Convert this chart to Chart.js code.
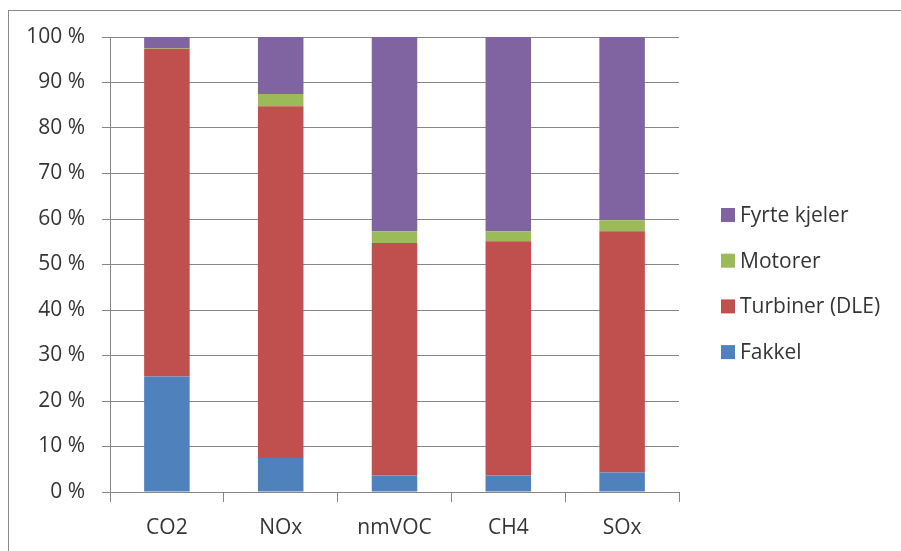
<!DOCTYPE html>
<html lang="no">
<head>
    <meta charset="UTF-8">
    <title>Utslipp fordelt på kilde</title>
    <style>
        html, body { margin: 0; padding: 0; background: #fff; overflow: hidden; }
        #wrap { position: relative; width: 901px; height: 551px; }
        #frame { position: absolute; left: 8px; top: 10px; width: 1000px; height: 600px;
                 border-left: 1px solid #8a8a8a; border-top: 1px solid #8a8a8a; }
        canvas { position: absolute; left: 0; top: 0; }
    </style>
    <script src="https://cdn.jsdelivr.net/npm/chart.js@4.4.2/dist/chart.umd.min.js"></script>
</head>
<body>
<div id="wrap">
    <div id="frame"></div>
    <canvas id="chart" width="901" height="551"></canvas>
</div>
<script>
    // kategorier og andeler (prosent) lest av figuren
    const categories = ['CO2', 'NOx', 'nmVOC', 'CH4', 'SOx'];
    const fakkel = [25.4, 7.5, 3.6, 3.6, 4.3];
    const turbiner = [72.0, 77.3, 51.1, 51.5, 53.0];
    const motorer = [0.2, 2.7, 2.6, 2.2, 2.4];
    const fyrteKjeler = [2.4, 12.5, 42.7, 42.7, 40.3];
    const yTicks = [0, 10, 20, 30, 40, 50, 60, 70, 80, 90, 100];

    const gridColor = '#868686';
    const textColor = '#353535';
    const font = { family: '"Open Sans", sans-serif', size: 21 };

    // legenden tegnes selv, til høyre for plottet (omvendt rekkefølge som i Excel)
    const sideLegend = {
        id: 'sideLegend',
        afterDraw(chart) {
            const ctx = chart.ctx;
            const sets = chart.data.datasets.slice().reverse();
            ctx.save();
            ctx.font = font.size + 'px ' + font.family;
            ctx.textBaseline = 'middle';
            ctx.textAlign = 'left';
            sets.forEach((ds, i) => {
                const cy = 215 + i * 45.7;
                ctx.fillStyle = ds.backgroundColor;
                ctx.fillRect(721, cy - 7, 14, 14);
                ctx.fillStyle = textColor;
                ctx.fillText(ds.label, 740, cy + 1);
            });
            ctx.restore();
        }
    };

    new Chart(document.getElementById('chart').getContext('2d'), {
        type: 'bar',
        data: {
            labels: categories,
            datasets: [
                { label: 'Fakkel', data: fakkel, backgroundColor: '#4F81BD' },
                { label: 'Turbiner (DLE)', data: turbiner, backgroundColor: '#C0504D' },
                { label: 'Motorer', data: motorer, backgroundColor: '#9BBB59' },
                { label: 'Fyrte kjeler', data: fyrteKjeler, backgroundColor: '#8064A2' }
            ]
        },
        plugins: [sideLegend],
        options: {
            responsive: false,
            animation: false,
            datasets: { bar: { categoryPercentage: 1, barPercentage: 0.4 } },
            layout: { padding: { top: 37, bottom: 0, left: 0, right: 222 } },
            plugins: {
                legend: { display: false },
                tooltip: { enabled: false }
            },
            scales: {
                x: {
                    stacked: true,
                    grid: { offset: true, drawOnChartArea: false, color: gridColor, tickLength: 10 },
                    border: { color: gridColor },
                    ticks: { color: textColor, font: font, padding: 13 },
                    afterFit: s => { s.height = 59; }
                },
                y: {
                    stacked: true,
                    min: 0, max: 100,
                    afterBuildTicks: s => { s.ticks = yTicks.map(v => ({ value: v })); },
                    grid: { color: gridColor, tickLength: 8 },
                    border: { color: gridColor },
                    ticks: { color: textColor, font: font, padding: 17, callback: v => v + ' %' },
                    afterFit: s => { s.width = 110; }
                }
            }
        }
    });
</script>
</body>
</html>
